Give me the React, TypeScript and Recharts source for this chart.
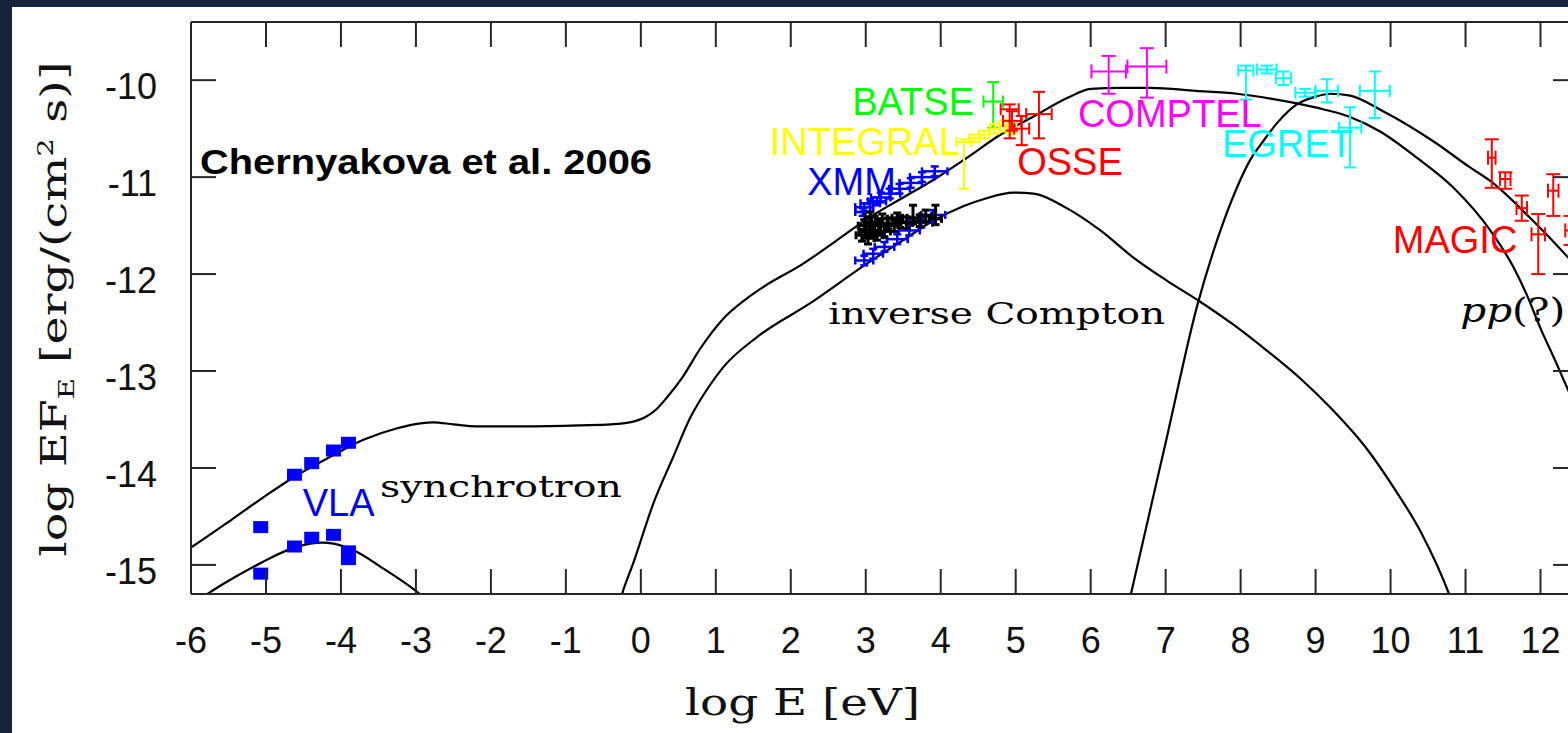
import React from 'react';
import { ComposedChart, Line, Scatter, XAxis, YAxis, ErrorBar } from 'recharts';

const FRAME = '#262626';
const SANS = '"Liberation Sans", Arial, sans-serif';
const SERIF = '"DejaVu Serif", serif';

const xTicks = [-6, -5, -4, -3, -2, -1, 0, 1, 2, 3, 4, 5, 6, 7, 8, 9, 10, 11, 12];
const yTicks = [-15, -14, -13, -12, -11, -10];

// model curves, log E [eV] vs log EF_E
const upperCurve = [
  { x: -6.1, y: -14.87 }, { x: -5.98, y: -14.81 }, { x: -5.47, y: -14.54 }, { x: -5.03, y: -14.3 },
  { x: -4.62, y: -14.09 }, { x: -4.13, y: -13.88 }, { x: -3.7, y: -13.71 }, { x: -3.25, y: -13.59 },
  { x: -2.94, y: -13.54 }, { x: -2.77, y: -13.53 }, { x: -2.5, y: -13.55 }, { x: -2.2, y: -13.57 },
  { x: -1.5, y: -13.57 }, { x: -0.8, y: -13.56 }, { x: -0.4, y: -13.55 }, { x: -0.15, y: -13.53 },
  { x: 0.05, y: -13.48 }, { x: 0.2, y: -13.4 }, { x: 0.35, y: -13.27 }, { x: 0.55, y: -13.07 },
  { x: 0.8, y: -12.76 }, { x: 1.1, y: -12.46 }, { x: 1.4, y: -12.26 }, { x: 1.7, y: -12.1 },
  { x: 2.13, y: -11.91 }, { x: 2.6, y: -11.66 }, { x: 3.02, y: -11.43 }, { x: 3.5, y: -11.21 },
  { x: 3.9, y: -11.03 }, { x: 4.35, y: -10.8 }, { x: 4.8, y: -10.56 }, { x: 5.25, y: -10.37 },
  { x: 5.7, y: -10.18 }, { x: 6.0, y: -10.09 }, { x: 6.4, y: -10.08 }, { x: 6.8, y: -10.08 },
  { x: 7.4, y: -10.11 }, { x: 7.95, y: -10.14 }, { x: 8.4, y: -10.19 }, { x: 8.75, y: -10.24 },
  { x: 9.1, y: -10.3 }, { x: 9.46, y: -10.38 }, { x: 9.86, y: -10.53 }, { x: 10.35, y: -10.8 },
  { x: 10.84, y: -11.11 }, { x: 11.33, y: -11.55 }, { x: 11.64, y: -11.93 }, { x: 11.82, y: -12.22 },
  { x: 12.0, y: -12.56 }, { x: 12.2, y: -12.9 }, { x: 12.37, y: -13.2 }, { x: 12.6, y: -13.6 },
];

const lowerSynchrotron = [
  { x: -5.95, y: -15.4 }, { x: -5.78, y: -15.3 }, { x: -5.47, y: -15.15 }, { x: -5.07, y: -14.98 },
  { x: -4.72, y: -14.85 }, { x: -4.41, y: -14.78 }, { x: -4.25, y: -14.77 }, { x: -4.1, y: -14.78 },
  { x: -3.83, y: -14.85 }, { x: -3.47, y: -15.02 }, { x: -2.98, y: -15.28 }, { x: -2.9, y: -15.33 },
];

const inverseCompton = [
  { x: -0.32, y: -15.5 }, { x: -0.25, y: -15.3 }, { x: -0.1, y: -14.98 }, { x: 0.17, y: -14.36 },
  { x: 0.43, y: -13.89 }, { x: 0.66, y: -13.48 }, { x: 0.9, y: -13.17 }, { x: 1.1, y: -12.96 },
  { x: 1.55, y: -12.65 }, { x: 2.26, y: -12.3 }, { x: 3.02, y: -11.89 }, { x: 3.5, y: -11.65 },
  { x: 3.9, y: -11.45 }, { x: 4.3, y: -11.3 }, { x: 4.6, y: -11.22 }, { x: 4.97, y: -11.16 },
  { x: 5.24, y: -11.17 }, { x: 5.68, y: -11.32 }, { x: 6.13, y: -11.55 }, { x: 6.57, y: -11.83 },
  { x: 7.02, y: -12.07 }, { x: 7.43, y: -12.27 }, { x: 7.9, y: -12.52 }, { x: 8.35, y: -12.79 },
  { x: 8.8, y: -13.08 }, { x: 9.2, y: -13.38 }, { x: 9.7, y: -13.82 }, { x: 10.04, y: -14.2 },
  { x: 10.41, y: -14.67 }, { x: 10.78, y: -15.3 }, { x: 10.85, y: -15.45 },
];

const ppCurve = [
  { x: 6.45, y: -15.6 }, { x: 6.54, y: -15.29 }, { x: 7.0, y: -13.74 }, { x: 7.43, y: -12.3 },
  { x: 7.7, y: -11.62 }, { x: 7.95, y: -11.11 }, { x: 8.13, y: -10.82 }, { x: 8.3, y: -10.63 },
  { x: 8.5, y: -10.43 }, { x: 8.75, y: -10.25 }, { x: 9.0, y: -10.17 }, { x: 9.2, y: -10.14 },
  { x: 9.46, y: -10.16 }, { x: 9.9, y: -10.32 }, { x: 10.57, y: -10.63 }, { x: 11.06, y: -10.9 },
  { x: 11.33, y: -11.04 }, { x: 11.86, y: -11.42 }, { x: 12.37, y: -11.83 }, { x: 12.6, y: -12.03 },
];

// observations
const vla = [
  { x: -4.62, y: -14.07 }, { x: -4.39, y: -13.95 }, { x: -4.1, y: -13.82 }, { x: -3.9, y: -13.74 },
  { x: -5.07, y: -14.61 }, { x: -5.07, y: -15.09 }, { x: -4.62, y: -14.81 }, { x: -4.39, y: -14.72 },
  { x: -4.1, y: -14.69 }, { x: -3.9, y: -14.86 }, { x: -3.9, y: -14.94 },
];

const xmmHigh = [
  { x: 2.96, y: -11.36, ex: 0.1, ey: 0.04 }, { x: 2.98, y: -11.31, ex: 0.12, ey: 0.04 },
  { x: 3.06, y: -11.27, ex: 0.13, ey: 0.04 }, { x: 3.15, y: -11.25, ex: 0.12, ey: 0.04 },
  { x: 3.2, y: -11.21, ex: 0.13, ey: 0.05 }, { x: 3.32, y: -11.17, ex: 0.14, ey: 0.05 },
  { x: 3.45, y: -11.12, ex: 0.14, ey: 0.05 }, { x: 3.6, y: -11.06, ex: 0.15, ey: 0.05 },
  { x: 3.75, y: -11.0, ex: 0.16, ey: 0.05 }, { x: 3.92, y: -10.94, ex: 0.17, ey: 0.05 },
];

const xmmLow = [
  { x: 2.98, y: -11.86, ex: 0.12, ey: 0.05 }, { x: 3.1, y: -11.79, ex: 0.13, ey: 0.05 },
  { x: 3.25, y: -11.72, ex: 0.13, ey: 0.05 }, { x: 3.42, y: -11.64, ex: 0.14, ey: 0.05 },
  { x: 3.58, y: -11.55, ex: 0.14, ey: 0.05 }, { x: 3.74, y: -11.47, ex: 0.15, ey: 0.05 },
  { x: 3.9, y: -11.39, ex: 0.16, ey: 0.05 },
];

const blackXray = [
  { x: 2.95, y: -11.6, ex: 0.08, ey: 0.06 }, { x: 2.98, y: -11.5, ex: 0.08, ey: 0.06 },
  { x: 3.0, y: -11.55, ex: 0.09, ey: 0.05 }, { x: 3.03, y: -11.63, ex: 0.08, ey: 0.06 },
  { x: 3.06, y: -11.41, ex: 0.07, ey: 0.05 }, { x: 3.08, y: -11.47, ex: 0.08, ey: 0.06 },
  { x: 3.12, y: -11.55, ex: 0.08, ey: 0.06 }, { x: 3.15, y: -11.6, ex: 0.08, ey: 0.05 },
  { x: 3.18, y: -11.5, ex: 0.08, ey: 0.06 }, { x: 3.22, y: -11.43, ex: 0.07, ey: 0.05 },
  { x: 3.25, y: -11.56, ex: 0.08, ey: 0.06 }, { x: 3.3, y: -11.48, ex: 0.08, ey: 0.06 },
  { x: 3.38, y: -11.5, ex: 0.08, ey: 0.06 }, { x: 3.42, y: -11.42, ex: 0.07, ey: 0.05 },
  { x: 3.46, y: -11.46, ex: 0.08, ey: 0.06 }, { x: 3.55, y: -11.47, ex: 0.08, ey: 0.06 },
  { x: 3.63, y: -11.42, ex: 0.08, ey: [0.06, 0.13] }, { x: 3.72, y: -11.45, ex: 0.08, ey: 0.06 },
  { x: 3.8, y: -11.4, ex: 0.08, ey: 0.06 }, { x: 3.93, y: -11.43, ex: 0.08, ey: [0.06, 0.14] },
];

const batse = [{ x: 4.7, y: -10.22, ex: 0.13, ey: [0.27, 0.2] }];

const integral = [
  { x: 4.31, y: -10.64, ex: 0.1, ey: [0.48, 0.03] }, { x: 4.45, y: -10.6, ex: 0.07, ey: 0.04 },
  { x: 4.58, y: -10.56, ex: 0.07, ey: 0.04 }, { x: 4.72, y: -10.5, ex: 0.07, ey: 0.05 },
  { x: 4.85, y: -10.47, ex: 0.07, ey: 0.06 }, { x: 4.95, y: -10.5, ex: 0.06, ey: 0.06 },
];

const osse = [
  { x: 4.92, y: -10.3, ex: 0.12, ey: [0.3, 0.05] }, { x: 4.95, y: -10.42, ex: 0.12, ey: 0.1 },
  { x: 5.08, y: -10.5, ex: 0.1, ey: [0.17, 0.13] }, { x: 5.31, y: -10.35, ex: 0.17, ey: [0.25, 0.23] },
];

const comptel = [
  { x: 6.24, y: -9.91, ex: 0.23, ey: [0.23, 0.16] },
  { x: 6.75, y: -9.86, ex: 0.26, ey: [0.32, 0.19] },
];

const egret = [
  { x: 8.07, y: -9.9, ex: 0.1, ey: [0.3, 0.05] }, { x: 8.35, y: -9.89, ex: 0.13, ey: 0.04 },
  { x: 8.57, y: -9.98, ex: 0.1, ey: 0.07 }, { x: 8.86, y: -10.13, ex: 0.13, ey: 0.04 },
  { x: 9.15, y: -10.11, ex: 0.15, ey: 0.12 }, { x: 9.46, y: -10.49, ex: 0.15, ey: [0.41, 0.21] },
  { x: 9.79, y: -10.11, ex: 0.2, ey: [0.28, 0.2] },
];

const magic = [
  { x: 11.35, y: -10.8, ex: 0.05, ey: [0.31, 0.19] }, { x: 11.53, y: -11.02, ex: 0.07, ey: [0.1, 0.07] },
  { x: 11.75, y: -11.32, ex: 0.07, ey: 0.13 }, { x: 11.97, y: -11.59, ex: 0.09, ey: [0.41, 0.21] },
  { x: 12.17, y: -11.14, ex: 0.07, ey: [0.26, 0.17] }, { x: 12.4, y: -11.55, ex: 0.07, ey: 0.15 },
];

// text annotations, anchored at the left end of the baseline
const annotations = [
  { text: 'Chernyakova et al. 2006', x: -5.88, y: -10.97, color: '#000000', kind: 'credit' },
  { text: 'BATSE', x: 2.82, y: -10.36, color: '#00ff00', kind: 'inst' },
  { text: 'INTEGRAL', x: 1.72, y: -10.77, color: '#ffff00', kind: 'inst' },
  { text: 'XMM', x: 2.22, y: -11.18, color: '#0000ff', kind: 'inst' },
  { text: 'OSSE', x: 5.02, y: -10.98, color: '#ff0000', kind: 'inst' },
  { text: 'COMPTEL', x: 5.83, y: -10.48, color: '#ff00ff', kind: 'inst' },
  { text: 'EGRET', x: 7.75, y: -10.79, color: '#00ffff', kind: 'inst' },
  { text: 'MAGIC', x: 10.03, y: -11.78, color: '#ff0000', kind: 'inst' },
  { text: 'VLA', x: -4.51, y: -14.5, color: '#0000ff', kind: 'inst' },
  { text: 'synchrotron', x: -3.48, y: -14.3, color: '#000000', kind: 'model' },
  { text: 'inverse Compton', x: 2.5, y: -12.52, color: '#000000', kind: 'model' },
  { text: 'pp(?)', x: 10.93, y: -12.49, color: '#000000', kind: 'model' },
];

const textWidths: Record<string, number> = {
  'Chernyakova et al. 2006': 452,
  synchrotron: 242,
  'inverse Compton': 337,
  'pp(?)': 105,
};

const annotationFont: Record<string, any> = {
  credit: { fontFamily: SANS, fontSize: 35, fontWeight: 700 },
  inst: { fontFamily: SANS, fontSize: 38 },
  model: { fontFamily: SERIF, fontSize: 29 },
};

const BottomTick = ({ x, y, payload }: any) => (
  <g>
    <line x1={x} y1={y} x2={x} y2={y - 25} stroke={FRAME} strokeWidth={2} />
    <text x={x} y={y + 59} textAnchor="middle" fontFamily={SANS} fontSize={36} fill="#111">
      {payload.value}
    </text>
  </g>
);

const TopTick = ({ x, y }: any) => <line x1={x} y1={y} x2={x} y2={y + 25} stroke={FRAME} strokeWidth={2} />;

const LeftTick = ({ x, y, payload }: any) => (
  <g>
    <line x1={x} y1={y} x2={x + 25} y2={y} stroke={FRAME} strokeWidth={2} />
    <text x={x - 34} y={y + 19} textAnchor="end" fontFamily={SANS} fontSize={36} fill="#111">
      {payload.value}
    </text>
  </g>
);

const RightTick = ({ x, y }: any) => <line x1={x} y1={y} x2={x - 25} y2={y} stroke={FRAME} strokeWidth={2} />;

const XTitle = ({ viewBox }: any) => (
  <text x={viewBox.x + 494} y={viewBox.y + 121} fontFamily={SERIF} fontSize={38} fill="#111"
    textLength={235} lengthAdjust="spacingAndGlyphs">
    log E [eV]
  </text>
);

const YTitle = ({ viewBox }: any) => {
  const cx = viewBox.x + viewBox.width - 125;
  const cy = viewBox.y + viewBox.height / 2 + 1;
  return (
    <text transform={`translate(${cx},${cy}) rotate(-90)`} textAnchor="middle" fontFamily={SERIF}
      fontSize={36} fill="#111" textLength={495} lengthAdjust="spacingAndGlyphs">
      log EF<tspan dy={8} fontSize={22}>E</tspan>
      <tspan dy={-8}> [erg/(cm</tspan>
      <tspan dy={-13} fontSize={22}>2</tspan>
      <tspan dy={13}> s)]</tspan>
    </text>
  );
};

const Nothing = () => <g />;

const VlaSquare = ({ cx, cy }: any) => <rect x={cx - 7.5} y={cy - 6} width={15} height={12} fill="#0000ff" />;

const Annotation = ({ cx, cy, payload }: any) => {
  const font = annotationFont[payload.kind];
  const len = textWidths[payload.text];
  const extra = len ? { textLength: len, lengthAdjust: 'spacingAndGlyphs' } : {};
  if (payload.text === 'pp(?)') {
    return (
      <text x={cx} y={cy} fill={payload.color} {...font} fontSize={34} {...extra}>
        <tspan fontStyle="italic">pp</tspan>(?)
      </text>
    );
  }
  return (
    <text x={cx} y={cy} fill={payload.color} {...font} {...extra}>
      {payload.text}
    </text>
  );
};

const errorSeries = (name: string, data: any[], color: string, cap = 6, sw = 2) => (
  <Scatter key={name} name={name} data={data} shape={Nothing} isAnimationActive={false}>
    <ErrorBar dataKey="ex" direction="x" width={cap} stroke={color} strokeWidth={sw} isAnimationActive={false} />
    <ErrorBar dataKey="ey" direction="y" width={cap} stroke={color} strokeWidth={sw} isAnimationActive={false} />
  </Scatter>
);

const curve = (name: string, data: any[]) => (
  <Line key={name} name={name} data={data} dataKey="y" type="monotone" stroke="#000" strokeWidth={2.2}
    dot={false} activeDot={false} isAnimationActive={false} />
);

export default function App() {
  return (
    <div style={{ position: 'absolute', left: 0, top: 0, width: 1568, height: 733, overflow: 'hidden', background: '#16233a' }}>
      <div style={{ position: 'absolute', left: 12, top: 7, width: 1556, height: 726, background: '#ffffff', overflow: 'hidden' }}>
        <ComposedChart width={1600} height={726} margin={{ top: 14, left: 178, right: 33, bottom: 138 }}>
          <XAxis dataKey="x" type="number" domain={[-6, 12.5]} ticks={xTicks} interval={0} allowDataOverflow
            height={1} tickSize={0} tickMargin={0} tickLine={false} tick={<BottomTick />}
            axisLine={{ stroke: FRAME, strokeWidth: 2 }} label={<XTitle />} />
          <XAxis xAxisId="top" orientation="top" dataKey="x" type="number" domain={[-6, 12.5]} ticks={xTicks}
            interval={0} allowDataOverflow height={1} tickSize={0} tickMargin={0} tickLine={false} tick={<TopTick />}
            axisLine={{ stroke: FRAME, strokeWidth: 2 }} />
          <YAxis dataKey="y" type="number" domain={[-15.3, -9.4]} ticks={yTicks} interval={0} allowDataOverflow
            width={1} tickSize={0} tickMargin={0} tickLine={false} tick={<LeftTick />}
            axisLine={{ stroke: FRAME, strokeWidth: 2 }} label={<YTitle />} />
          <YAxis yAxisId="right" orientation="right" dataKey="y" type="number" domain={[-15.3, -9.4]} ticks={yTicks}
            interval={0} allowDataOverflow width={1} tickSize={0} tickMargin={0} tickLine={false} tick={<RightTick />}
            axisLine={{ stroke: FRAME, strokeWidth: 2 }} />

          {curve('upper', upperCurve)}
          {curve('lowerSync', lowerSynchrotron)}
          {curve('ic', inverseCompton)}
          {curve('pp', ppCurve)}

          <Scatter name="VLA" data={vla} shape={VlaSquare} isAnimationActive={false} />
          {errorSeries('XMM high', xmmHigh, '#0000ff', 4, 2.5)}
          {errorSeries('XMM low', xmmLow, '#0000ff', 4, 2.5)}
          {errorSeries('X-ray', blackXray, '#000000', 4, 3)}
          {errorSeries('BATSE', batse, '#00ff00')}
          {errorSeries('INTEGRAL', integral, '#ffff00', 5)}
          {errorSeries('OSSE', osse, '#ff0000', 6)}
          {errorSeries('COMPTEL', comptel, '#ff00ff', 7)}
          {errorSeries('EGRET', egret, '#00ffff', 6)}
          {errorSeries('MAGIC', magic, '#ff0000', 7)}

          <Scatter name="labels" data={annotations} shape={Annotation} isAnimationActive={false} />
        </ComposedChart>
      </div>
    </div>
  );
}
